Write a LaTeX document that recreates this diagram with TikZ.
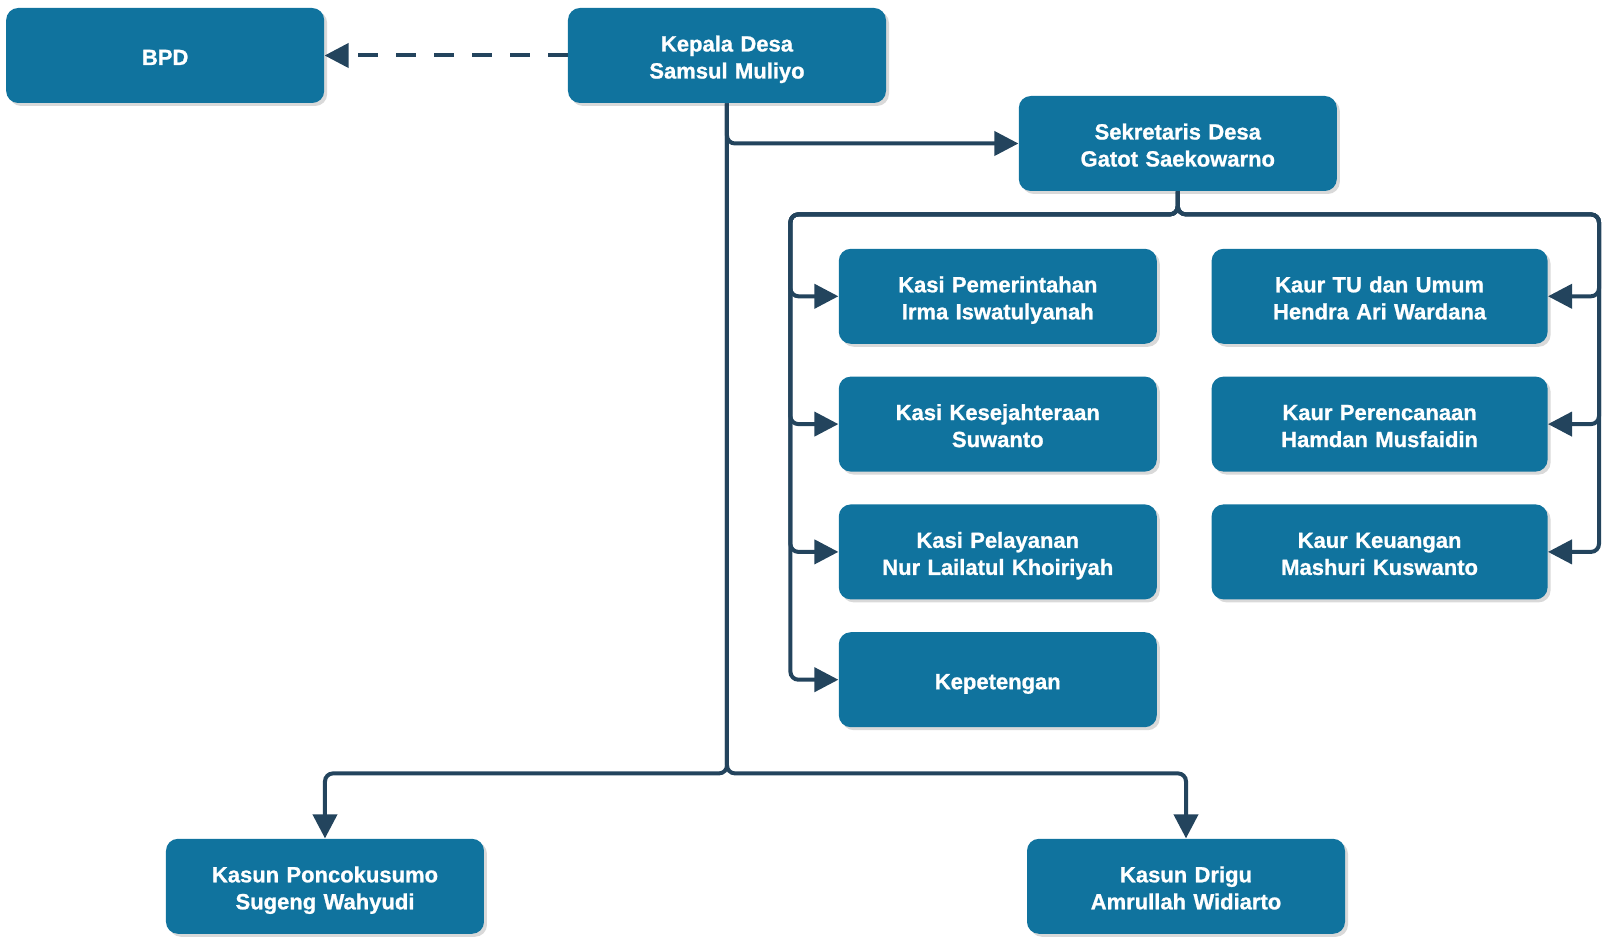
\documentclass[tikz,border=0pt]{standalone}
\usepackage{xcolor}
\usepackage{fontspec}
\setmainfont{Liberation Sans}
\newfontfamily\unitfont{Liberation Sans Bold}[FakeBold=1]
\usepackage{tikz}
\usetikzlibrary{
  arrows.meta, positioning, calc, shadows
}
\definecolor{OrgBlue}{HTML}{10739E}
\definecolor{OrgLine}{HTML}{23445D}

\begin{document}
\begin{tikzpicture}[
  node distance=16pt and 27pt,
  unit/.style={rectangle, rounded corners=6pt, fill=OrgBlue, draw=none, text=white,
    font=\fontsize{11}{13.5}\unitfont, align=center, inner sep=2pt, text width=150pt,
    minimum width=159pt, minimum height=47.5pt,
    execute at begin node={\rule{0pt}{12pt}},
    execute at end node={\rule[-2.5pt]{0pt}{2.5pt}},
    drop shadow={opacity=0.3, shadow xshift=1.5pt, shadow yshift=-1.5pt}},
  wideunit/.style={unit, text width=160pt, minimum width=168pt},
  arrow/.style={-{Triangle[length=12pt,width=12pt]}, line width=2pt, draw=OrgLine, rounded corners=4pt},
  dashline/.style={arrow, dash pattern=on 10pt off 9pt}
]
\useasboundingbox (-363.5pt,27.75pt) rectangle (442.5pt,-445.25pt);

\node[unit] (kades) {Kepala Desa\\Samsul Muliyo};
\node[unit, left=121.5pt of kades] (bpd) {BPD};
\node[unit, right=66pt of kades, yshift=-44pt] (sekdes) {Sekretaris Desa\\Gatot Saekowarno};

\node[unit, below=28.5pt of sekdes, xshift=-90pt] (kasiA) {Kasi Pemerintahan\\Irma Iswatulyanah};
\node[unit, below=of kasiA] (kasiB) {Kasi Kesejahteraan\\Suwanto};
\node[unit, below=of kasiB] (kasiC) {Kasi Pelayanan\\Nur Lailatul Khoiriyah};
\node[unit, below=of kasiC] (kepet) {Kepetengan};

\node[wideunit, right=of kasiA] (kaurA) {Kaur TU dan Umum\\Hendra Ari Wardana};
\node[wideunit, right=of kasiB] (kaurB) {Kaur Perencanaan\\Hamdan Musfaidin};
\node[wideunit, right=of kasiC] (kaurC) {Kaur Keuangan\\Mashuri Kuswanto};

\node[unit, below=367.5pt of kades, xshift=-201pt] (kasunA) {Kasun Poncokusumo\\Sugeng Wahyudi};
\node[unit, below=367.5pt of kades, xshift=229.5pt] (kasunB) {Kasun Drigu\\Amrullah Widiarto};

% kepala desa
\draw[dashline] (kades.west) -- (bpd.east);
\draw[arrow] (kades.south) |- (sekdes.west);
\draw[arrow] (kades.south) |- ($(kasunA.north)+(0,32.5pt)$) -- (kasunA.north);
\draw[arrow] (kades.south) |- ($(kasunB.north)+(0,32.5pt)$) -- (kasunB.north);

% sekretaris desa
\foreach \k in {kasiA, kasiB, kasiC, kepet}
  \draw[arrow] (sekdes.south) -- ++(0,-11.5pt) -| ($(\k.west)+(-24pt,0)$) -- (\k.west);
\foreach \k in {kaurA, kaurB, kaurC}
  \draw[arrow] (sekdes.south) -- ++(0,-11.5pt) -| ($(\k.east)+(25.5pt,0)$) -- (\k.east);
\end{tikzpicture}
\end{document}
